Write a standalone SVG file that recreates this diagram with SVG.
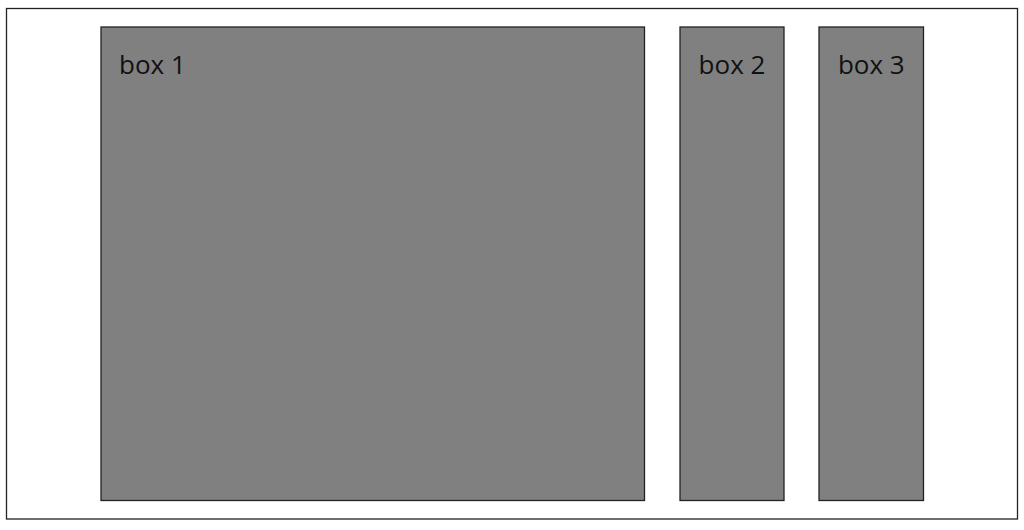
<svg xmlns="http://www.w3.org/2000/svg" width="1024" height="530" viewBox="0 0 1024 530">
<style>
.frame{fill:#ffffff;stroke:#222222;stroke-width:1.3}
.box{fill:#808080;stroke:#222222;stroke-width:1.3}
.lbl{font-family:"Open Sans","Noto Sans",sans-serif;font-size:26px;fill:#111111}
</style>
<rect width="1024" height="530" fill="#ffffff"/>
<rect class="frame" x="6.5" y="8.5" width="1011" height="510.5"/>
<g id="box1">
<rect class="box" x="101" y="27" width="543.5" height="473.5"/>
<text class="lbl" x="119" y="74">box 1</text>
</g>
<g id="box2">
<rect class="box" x="680" y="27" width="104" height="473.5"/>
<text class="lbl" x="732" y="74" text-anchor="middle">box 2</text>
</g>
<g id="box3">
<rect class="box" x="819" y="27" width="104.5" height="473.5"/>
<text class="lbl" x="871.3" y="74" text-anchor="middle">box 3</text>
</g>
<g id="connectors"></g>
</svg>
